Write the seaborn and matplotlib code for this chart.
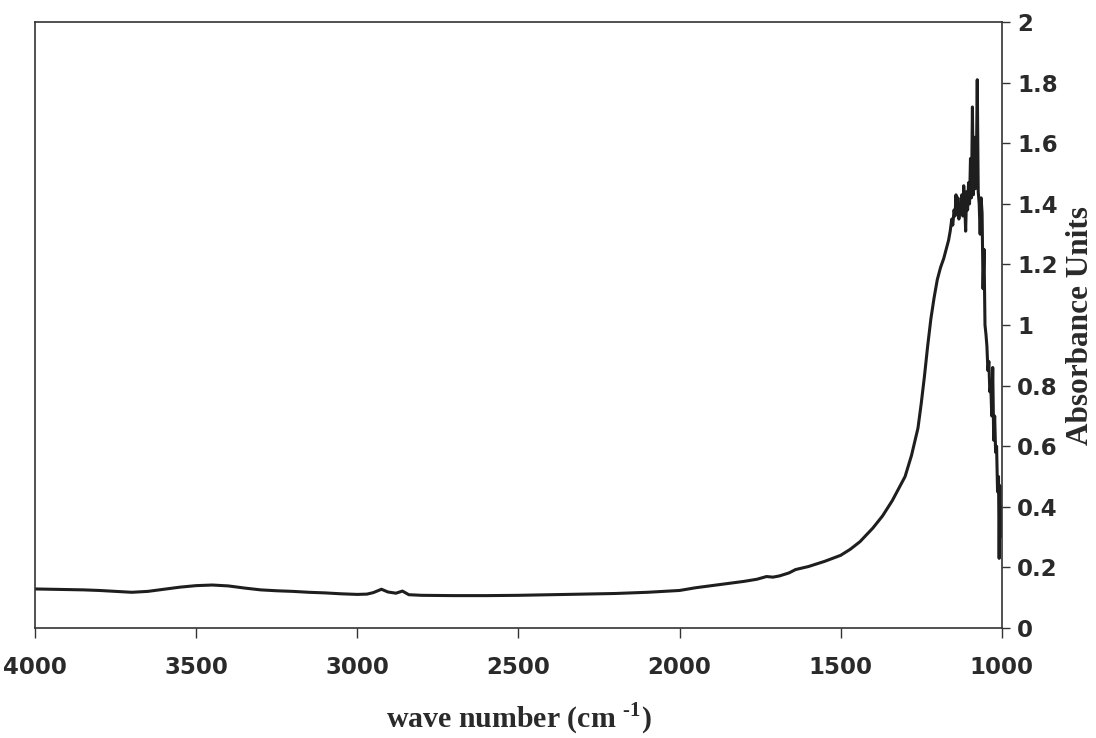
import pandas as pd
import matplotlib.pyplot as plt
import seaborn as sns

# 光谱数据
wave_base = [4000, 3950, 3900, 3850, 3800, 3750, 3700, 3650, 3600, 3550, 3500, 3450,
             3400, 3350, 3300, 3250, 3200, 3150, 3100, 3050, 3000, 2970, 2950, 2925,
             2905, 2880, 2860, 2840, 2800, 2700, 2600, 2500, 2400, 2300, 2200, 2100,
             2000, 1950, 1900, 1850, 1800, 1760, 1730, 1710, 1690, 1660, 1640, 1600,
             1550, 1500, 1470, 1440, 1400, 1370, 1340, 1320, 1300, 1280, 1260, 1250,
             1240, 1230, 1220, 1210, 1200, 1190, 1180, 1170, 1165]
abs_base = [0.129, 0.128, 0.127, 0.126, 0.124, 0.121, 0.118, 0.121, 0.128, 0.135, 0.140, 0.142,
            0.139, 0.132, 0.126, 0.123, 0.121, 0.118, 0.116, 0.113, 0.111, 0.112, 0.117, 0.128,
            0.119, 0.115, 0.122, 0.110, 0.108, 0.107, 0.107, 0.108, 0.110, 0.112, 0.114, 0.118,
            0.124, 0.133, 0.140, 0.147, 0.154, 0.161, 0.170, 0.168, 0.172, 0.182, 0.193, 0.203,
            0.220, 0.240, 0.260, 0.285, 0.330, 0.370, 0.420, 0.460, 0.500, 0.570, 0.660, 0.740,
            0.830, 0.930, 1.020, 1.090, 1.150, 1.190, 1.220, 1.260, 1.280]

# 峰区（噪声较大）
wave_peak = [1160, 1155, 1152, 1148, 1145, 1142, 1139, 1136, 1133, 1130, 1127, 1124,
             1121, 1118, 1115, 1112, 1109, 1106, 1103, 1100, 1097, 1094, 1091, 1088,
             1085, 1082, 1079, 1076, 1073, 1070, 1067, 1064, 1061, 1058, 1055, 1052,
             1049, 1046, 1043, 1040, 1037, 1034, 1031, 1028, 1025, 1022, 1019, 1016,
             1013, 1010, 1008, 1006, 1004, 1002, 1000]
abs_peak = [1.31, 1.35, 1.33, 1.38, 1.36, 1.43, 1.37, 1.42, 1.35, 1.39, 1.37, 1.43,
            1.36, 1.46, 1.40, 1.31, 1.44, 1.38, 1.47, 1.40, 1.55, 1.42, 1.72, 1.43,
            1.62, 1.45, 1.50, 1.81, 1.44, 1.40, 1.30, 1.42, 1.37, 1.12, 1.25, 1.00,
            0.97, 0.93, 0.85, 0.88, 0.78, 0.80, 0.70, 0.86, 0.62, 0.70, 0.58, 0.60,
            0.45, 0.50, 0.23, 0.47, 0.30, 0.40, 0.36]

df = pd.DataFrame({'wave': wave_base + wave_peak, 'absorbance': abs_base + abs_peak})

sns.set_style('white')
plt.rcParams['font.family'] = ['DejaVu Sans']
plt.rcParams['mathtext.fontset'] = 'custom'
plt.rcParams['mathtext.rm'] = 'Liberation Serif:bold'
plt.rcParams['mathtext.bf'] = 'Liberation Serif:bold'

fig = plt.figure(figsize=(10.96, 7.38), dpi=100)
ax = fig.add_axes([0.032, 0.149, 0.882, 0.821])

sns.lineplot(data=df, x='wave', y='absorbance', estimator=None, sort=False,
             color='#1e1e1e', linewidth=2.2, ax=ax)

ax.set_xlim(4000, 1000)
ax.set_ylim(0, 2)
ax.set_xticks([4000, 3500, 3000, 2500, 2000, 1500, 1000])
ax.set_yticks([0, 0.2, 0.4, 0.6, 0.8, 1, 1.2, 1.4, 1.6, 1.8, 2])
ax.set_yticklabels(['0', '0.2', '0.4', '0.6', '0.8', '1', '1.2', '1.4', '1.6', '1.8', '2'])

ax.yaxis.tick_right()
ax.yaxis.set_label_position('right')
ax.tick_params(axis='x', direction='out', length=7, width=1, colors='#333333',
               labelsize=16.5, pad=13, bottom=True)
ax.tick_params(axis='y', direction='out', length=6, width=1, colors='#333333',
               labelsize=16.5, pad=5, right=True, left=False)
for lab in ax.get_xticklabels() + ax.get_yticklabels():
    lab.set_fontweight('bold')
    lab.set_color('#2a2a2a')

for sp in ax.spines.values():
    sp.set_color('#333333')
    sp.set_linewidth(1.2)

ax.set_xlabel(r'wave number (cm $^{\text{-}1}$)', fontsize=21.5, fontweight='bold',
              family='Liberation Serif', color='#2a2a2a', labelpad=16)
ax.set_ylabel('Absorbance Units', fontsize=22.5, fontweight='bold',
              family='Liberation Serif', color='#2a2a2a', labelpad=6)

fig.savefig('out.png', dpi=100)
plt.close(fig)
